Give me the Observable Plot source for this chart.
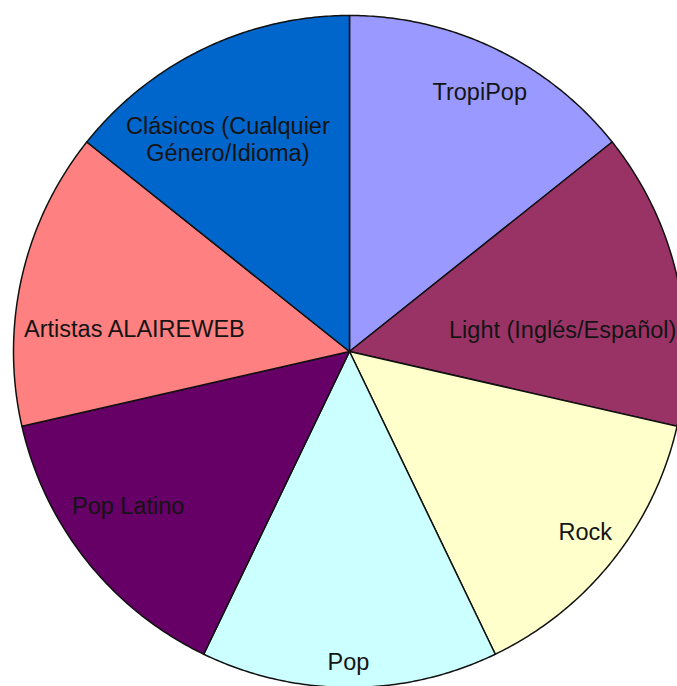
<!DOCTYPE html>
<html>
<head>
<meta charset="utf-8">
<script src="https://cdn.jsdelivr.net/npm/d3@7"></script>
<script src="https://cdn.jsdelivr.net/npm/@observablehq/plot@0.6"></script>
<style>
  html, body { margin: 0; padding: 0; background: #ffffff; }
  #chart { width: 677px; height: 686px; overflow: hidden; }
  #chart svg { overflow: hidden; display: block; }
</style>
</head>
<body>
<div id="chart"></div>
<script>
// ---- Data ----
const categories = [
  "TropiPop",
  "Light (Inglés/Español)",
  "Rock",
  "Pop",
  "Pop Latino",
  "Artistas ALAIREWEB",
  "Clásicos (Cualquier\nGénero/Idioma)"
];
const values = [1, 1, 1, 1, 1, 1, 1];
const colors = ["#9999FF", "#993366", "#FFFFCC", "#CCFFFF", "#660066", "#FF8080", "#0066CC"];

// ---- Layout (label placement, relative to pie radius / slice middle) ----
const labelRadius = [0.865, 0.638, 0.883, 0.923, 0.802, 0.644, 0.728];
const labelShiftDeg = [0.9, 6.8, -1.2, 0.2, 3.8, -6.6, -4.1];

const W = 677, H = 686;
const cx = 349, cy = 351, R = 336; // pixel centre and radius of the pie

// ---- Geometry from data ----
const arcs = d3.pie().sort(null).value(d => d)(values);
const slices = [];
arcs.forEach((a, i) => {
  const n = Math.max(2, Math.ceil((a.endAngle - a.startAngle) / (Math.PI / 360)));
  slices.push({cat: categories[i], x: 0, y: 0});
  for (let k = 0; k <= n; k++) {
    const t = a.startAngle + (a.endAngle - a.startAngle) * k / n;
    slices.push({cat: categories[i], x: Math.sin(t), y: Math.cos(t)});
  }
  slices.push({cat: categories[i], x: 0, y: 0});
});
const labels = arcs.map((a, i) => {
  const t = (a.startAngle + a.endAngle) / 2 + labelShiftDeg[i] * Math.PI / 180;
  return {cat: categories[i], x: labelRadius[i] * Math.sin(t), y: labelRadius[i] * Math.cos(t)};
});

const chart = Plot.plot({
  width: W,
  height: H,
  margin: 0,
  style: {fontFamily: "'Liberation Sans', Arial, sans-serif", background: "#ffffff", overflow: "hidden"},
  x: {domain: [-cx / R, (W - cx) / R], axis: null},
  y: {domain: [(cy - H) / R, cy / R], axis: null},
  color: {domain: categories, range: colors},
  marks: [
    Plot.line(slices, {
      x: "x", y: "y", z: "cat", fill: "cat",
      stroke: "#111111", strokeWidth: 1.5, strokeLinejoin: "round"
    }),
    Plot.text(labels, {
      x: "x", y: "y", text: "cat",
      fontSize: 23.5, lineHeight: 1.15, fill: "#141414",
      textAnchor: "middle", lineAnchor: "middle"
    })
  ]
});
document.getElementById("chart").appendChild(chart);
</script>
</body>
</html>
